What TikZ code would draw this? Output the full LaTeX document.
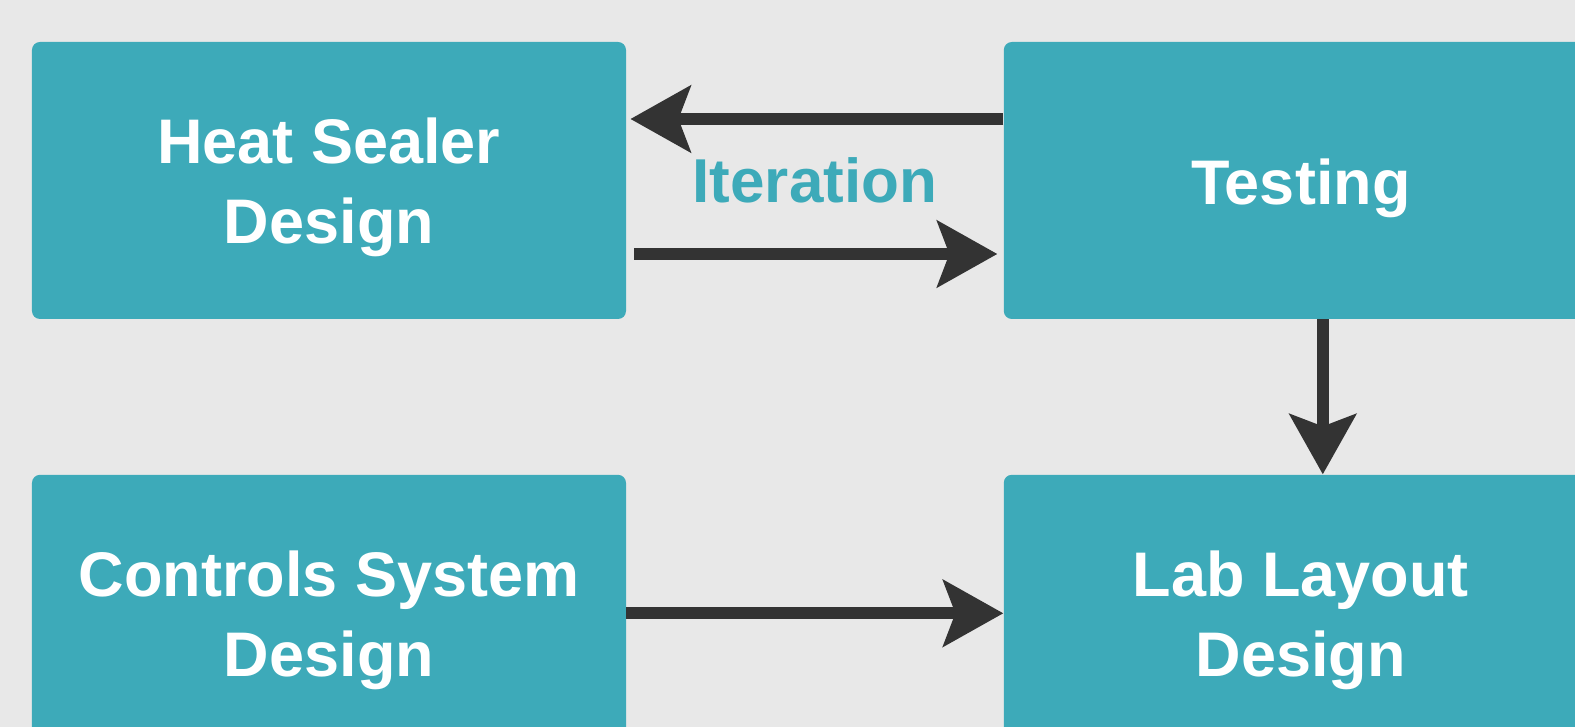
\documentclass[tikz,border=0pt]{standalone}
\usepackage{fontspec}
\setmainfont{Liberation Sans}
\usepackage{xcolor}
\usetikzlibrary{arrows.meta, positioning}
\definecolor{boxteal}{HTML}{3DAAB9}
\definecolor{bggray}{HTML}{E8E8E8}
\definecolor{arrowgray}{HTML}{333333}

\begin{document}
\begin{tikzpicture}[
      node distance=77.5pt and 188.5pt,
      box/.style={fill=boxteal, text=white, rounded corners=4pt, minimum width=297pt, minimum height=138.5pt, inner sep=0pt, font=\fontsize{31.5}{40}\selectfont\bfseries, align=center, text height=31pt},
      twoline/.style={box, text height=70pt},
      arrow/.style={-{Stealth[length=30pt, width=33pt, inset=6pt]}, line width=6pt, arrowgray}
    ]
        \useasboundingbox (-164.5pt,90.25pt) rectangle (623pt,-273.25pt);
        \fill[bggray] (-164.5pt,90.25pt) rectangle (623pt,-273.25pt);

        \node[twoline] (heat) {Heat Sealer\\Design};
        \node[box] (test) [right=of heat] {Testing};
        \node[twoline] (ctrl) [below=of heat] {Controls System\\Design};
        \node[twoline] (lab) [below=of test] {Lab Layout\\Design};
        \path (heat) -- (test) node[midway, text=boxteal, font=\fontsize{31}{40}\selectfont\bfseries] (iter) {Iteration};

        \draw[arrow] ([yshift=30.75pt]test.west) -- ([yshift=30.75pt, xshift=2pt]heat.east);
        \draw[arrow] ([yshift=-36.75pt, xshift=4pt]heat.east) -- ([yshift=-36.75pt, xshift=-3pt]test.west);
        \draw[arrow] ([xshift=11pt]test.south) -- ([xshift=11pt]lab.north);
        \draw[arrow] (ctrl) -- (lab);
    \end{tikzpicture}
\end{document}
